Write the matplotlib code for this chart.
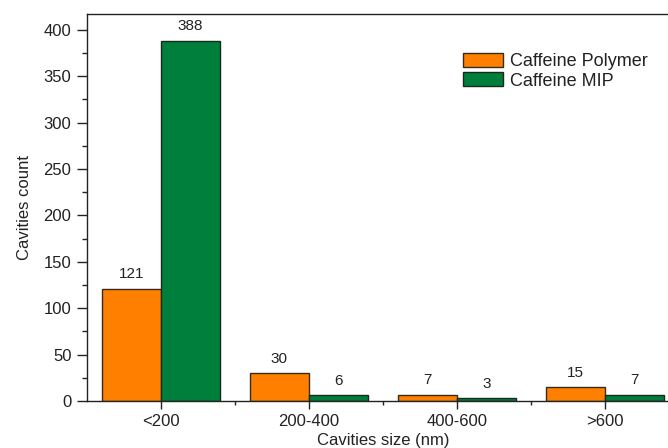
import matplotlib
matplotlib.use("Agg")
import matplotlib.pyplot as plt
import numpy as np
from matplotlib.ticker import MultipleLocator, FixedLocator

plt.rcParams['font.family'] = ['Liberation Sans', 'DejaVu Sans']

categories = ['<200', '200-400', '400-600', '>600']
polymer = [121, 30, 7, 15]
mip = [388, 6, 3, 7]
series_names = ['Caffeine Polymer', 'Caffeine MIP']
colors = ['#ff8000', '#007f3c']

W, H = 668, 448
fig = plt.figure(figsize=(W / 100, H / 100), dpi=100)
ax = fig.add_axes([87 / W, 1 - 401 / H, 592 / W, 387 / H])

x = np.arange(len(categories))
bw = 0.4
b1 = ax.bar(x, polymer, width=-bw, align='edge', color=colors[0],
            edgecolor='#3a2a1a', linewidth=1.0, label=series_names[0])
b2 = ax.bar(x, mip, width=bw, align='edge', color=colors[1],
            edgecolor='#1a2a1a', linewidth=1.0, label=series_names[1])

for bars, vals in ((b1, polymer), (b2, mip)):
    for rect, v in zip(bars, vals):
        ax.annotate(str(v), (rect.get_x() + rect.get_width() / 2, v),
                    xytext=(0, 7.5), textcoords='offset points',
                    ha='center', va='baseline', fontsize=11, color='#222222')

ax.set_xlim(-0.5, 3.5)
ax.set_ylim(0, 417)
ax.set_xticks(x)
ax.set_xticklabels(categories)
ax.xaxis.set_minor_locator(FixedLocator(x[:-1] + 0.5))
ax.yaxis.set_major_locator(MultipleLocator(50))
ax.yaxis.set_minor_locator(MultipleLocator(25))

ax.tick_params(axis='y', which='major', direction='out', length=7.2,
               width=1.0, labelsize=12, colors='#222222', pad=4)
ax.tick_params(axis='y', which='minor', direction='out', length=3.6,
               width=1.0, colors='#222222')
ax.tick_params(axis='x', which='major', direction='out', length=6,
               width=1.0, labelsize=12, colors='#222222', pad=3)
ax.tick_params(axis='x', which='minor', direction='out', length=3,
               width=1.0, colors='#222222')

ax.spines['right'].set_visible(False)
for s in ('left', 'top', 'bottom'):
    ax.spines[s].set_linewidth(1.0)
    ax.spines[s].set_color('#222222')

ax.set_xlabel('Cavities size (nm)', fontsize=12, color='#222222', labelpad=3)
ax.set_ylabel('Cavities count', fontsize=12, color='#222222', labelpad=8)

leg = ax.legend(loc='upper left', bbox_to_anchor=((463 - 87) / 592, 1 - (53 - 14) / 387),
                frameon=False, fontsize=13, handlelength=2.2, handleheight=0.8,
                handletextpad=0.42, labelspacing=0.12, borderpad=0, borderaxespad=0)
for t in leg.get_texts():
    t.set_color('#222222')

fig.savefig('out.png', dpi=100)
